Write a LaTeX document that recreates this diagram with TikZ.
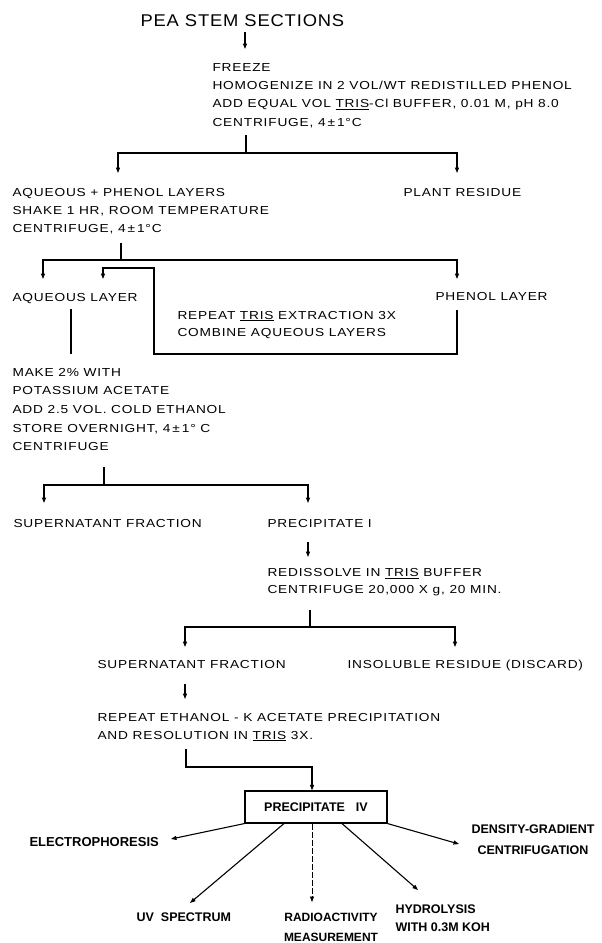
\documentclass[tikz,border=0pt]{standalone}
\usepackage{fontspec}
\usetikzlibrary{arrows.meta}
\newfontfamily\bodyf[FakeStretch=1.18,LetterSpace=7]{Liberation Sans}
\newfontfamily\titlef[FakeStretch=1.08,LetterSpace=5]{Liberation Sans}
\newfontfamily\botf{Liberation Sans}
\newcommand\bodyfs[1]{\bodyf\fontsize{11.6pt}{#1}\selectfont}
\newcommand\botfs[2]{\botf\bfseries\fontsize{#1}{#2}\selectfont}
\begin{document}
\begin{tikzpicture}[x=1pt,y=-1pt,line width=1.1pt,
  lbl/.style={inner sep=0pt,anchor=base west,align=left,font=\bodyfs{18.4pt}},
  bot/.style={inner sep=0pt,anchor=base west,align=left,font=\botfs{12.5pt}{19pt}},
  arr/.style={-{Triangle[length=5.5pt,width=4pt]}},
  thin/.style={line width=0.7pt,dash pattern=on 6pt off 2pt}]
\useasboundingbox (0,0) rectangle (602,943);

% ---- text nodes (multi-line nodes are placed by the baseline of their last line) ----
\node[inner sep=0pt,anchor=base west,font=\titlef\fontsize{17pt}{20pt}\selectfont] (title) at (140,26) {PEA STEM SECTIONS};
\node[lbl] (freeze) at (212,126.2) {FREEZE\\HOMOGENIZE IN 2 VOL/WT REDISTILLED PHENOL\\ADD EQUAL VOL \underline{TRIS}-Cl BUFFER, 0.01 M, pH 8.0\\CENTRIFUGE, 4\,±\,1°C};
\node[lbl,font=\bodyfs{18pt}] (aqph) at (12,232) {AQUEOUS + PHENOL LAYERS\\SHAKE 1 HR, ROOM TEMPERATURE\\CENTRIFUGE, 4\,±\,1°C};
\node[lbl] (plant) at (403,196) {PLANT RESIDUE};
\node[lbl] (aql) at (12,301) {AQUEOUS LAYER};
\node[lbl] (phl) at (435,300) {PHENOL LAYER};
\node[lbl,font=\bodyfs{17.5pt}] (rep) at (177,336.5) {REPEAT \underline{TRIS} EXTRACTION 3X\\COMBINE AQUEOUS LAYERS};
\node[lbl,font=\bodyfs{18.7pt}] (make) at (12,450.8) {MAKE 2\% WITH\\POTASSIUM ACETATE\\ADD 2.5 VOL. COLD ETHANOL\\STORE OVERNIGHT, 4\,±\,1° C\\CENTRIFUGE};
\node[lbl] (sup1) at (13,527) {SUPERNATANT FRACTION};
\node[lbl] (pre1) at (267,527) {PRECIPITATE I};
\node[lbl,font=\bodyfs{16.5pt}] (redis) at (267,593) {REDISSOLVE IN \underline{TRIS} BUFFER\\CENTRIFUGE 20,000 X g, 20 MIN.};
\node[lbl] (sup2) at (97,668) {SUPERNATANT FRACTION};
\node[lbl] (insol) at (347,668) {INSOLUBLE RESIDUE (DISCARD)};
\node[lbl,font=\bodyfs{18pt}] (repeth) at (97,739) {REPEAT ETHANOL - K ACETATE PRECIPITATION\\AND RESOLUTION IN \underline{TRIS} 3X.};
\node[draw,line width=1.1pt,minimum width=142pt,minimum height=32pt,inner sep=0pt,
      font=\botfs{12.5pt}{14pt}] (box) at (316,807) {PRECIPITATE\hspace{11pt}IV};
\node[bot,font=\botfs{13pt}{19pt}] (electro) at (29,846.5) {ELECTROPHORESIS};
\node[bot,anchor=base,align=center,font=\botfs{12.5pt}{21pt}] (dens) at (533,854.5) {DENSITY-GRADIENT\\CENTRIFUGATION};
\node[bot] (uv) at (136,921.5) {UV\hspace{7pt}SPECTRUM};
\node[bot,anchor=base,align=center,font=\botfs{12pt}{20pt}] (radio) at (331,941) {RADIOACTIVITY\\MEASUREMENT};
\node[bot,font=\botfs{12.5pt}{18pt}] (hydro) at (395,931.5) {HYDROLYSIS\\WITH 0.3M KOH};

% ---- connector points ----
\coordinate (a0) at (245,32);   \coordinate (a1) at (245,49);
\coordinate (b0) at (246,135);  \coordinate (b1) at (246,153);
\coordinate (b2) at (118,173);  \coordinate (b3) at (457,173);
\coordinate (c0) at (121,243);  \coordinate (c1) at (121,260);
\coordinate (c2) at (43,279);   \coordinate (c3) at (457,279);
\coordinate (d0) at (457,310);  \coordinate (d1) at (154,354);
\coordinate (d2) at (103,268);  \coordinate (d3) at (103,279);
\coordinate (e0) at (71,309);   \coordinate (e1) at (71,354);
\coordinate (f0) at (104,467);  \coordinate (f1) at (104,485);
\coordinate (f2) at (44,503);   \coordinate (f3) at (308,503);
\coordinate (g0) at (308,542);  \coordinate (g1) at (308,557);
\coordinate (h0) at (310,610);  \coordinate (h1) at (310,627);
\coordinate (h2) at (185,647);  \coordinate (h3) at (455,647);
\coordinate (i0) at (185,684);  \coordinate (i1) at (185,699);
\coordinate (j0) at (186,749);  \coordinate (j1) at (186,767);
\coordinate (k1) at (171,839);  \coordinate (k2) at (459,844);
\coordinate (k3) at (190,903);  \coordinate (k4) at (312,902);
\coordinate (k5) at (418,890);

% ---- connectors ----
\draw[arr] (a0) -- (a1);
\draw (b0) -- (b1);
\draw[arr] (b1) -| (b2);
\draw[arr] (b1) -| (b3);
\draw (c0) -- (c1);
\draw[arr] (c1) -| (c2);
\draw[arr] (c1) -| (c3);
\draw[arr] (d0) |- (d1) |- (d2) -- (d3);
\draw (e0) -- (e1);
\draw (f0) -- (f1);
\draw[arr] (f1) -| (f2);
\draw[arr] (f1) -| (f3);
\draw[arr] (g0) -- (g1);
\draw (h0) -- (h1);
\draw[arr] (h1) -| (h2);
\draw[arr] (h1) -| (h3);
\draw[arr] (i0) -- (i1);
\draw[arr] (j0) -- (j1) -| (box.north -| k4);
\draw[arr] (box.south west) -- (k1);
\draw[arr] (box.south east) -- (k2);
\draw[arr] (box.south -| 284,0) -- (k3);
\draw[arr,thin] (box.south -| k4) -- (k4);
\draw[arr] (box.south -| 342,0) -- (k5);
\end{tikzpicture}
\end{document}
